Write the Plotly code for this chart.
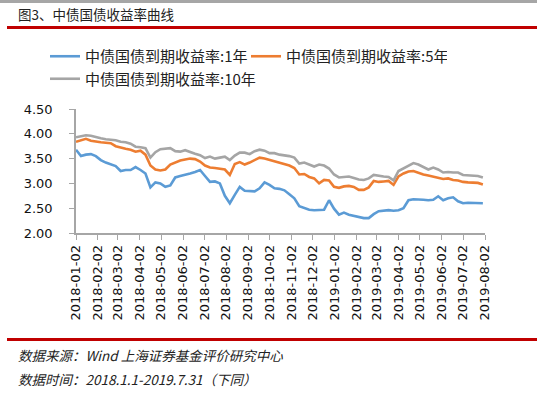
import pandas as pd
import plotly.graph_objects as go

# ---- data (weekly readings from the chart) ----
dates = pd.date_range("2018-01-02", periods=83, freq="7D").strftime("%Y-%m-%d").tolist()

y1 = [3.68, 3.55, 3.58, 3.59, 3.55, 3.47, 3.42, 3.39, 3.35, 3.25,
      3.27, 3.27, 3.33, 3.27, 3.20, 2.92, 3.02, 3.00, 2.93, 2.96,
      3.12, 3.15, 3.17, 3.20, 3.23, 3.27, 3.15, 3.03, 3.04, 3.00,
      2.75, 2.60, 2.77, 2.93, 2.85, 2.84, 2.84, 2.90, 3.02, 2.97,
      2.90, 2.89, 2.86, 2.78, 2.70, 2.54, 2.50, 2.47, 2.46, 2.46,
      2.47, 2.66, 2.49, 2.37, 2.41, 2.37, 2.35, 2.33, 2.30, 2.30,
      2.38, 2.44, 2.45, 2.46, 2.45, 2.46, 2.50, 2.66, 2.68, 2.68,
      2.67, 2.66, 2.67, 2.74, 2.66, 2.70, 2.72, 2.64, 2.60, 2.61,
      2.61, 2.61, 2.60]

y5 = [3.84, 3.87, 3.90, 3.86, 3.84, 3.83, 3.82, 3.81, 3.75, 3.72,
      3.70, 3.68, 3.64, 3.66, 3.58, 3.36, 3.28, 3.26, 3.28, 3.38,
      3.42, 3.46, 3.48, 3.50, 3.49, 3.44, 3.36, 3.32, 3.31, 3.29,
      3.28, 3.17, 3.39, 3.43, 3.38, 3.42, 3.47, 3.52, 3.50, 3.47,
      3.45, 3.42, 3.39, 3.36, 3.31, 3.18, 3.19, 3.13, 3.10, 3.00,
      3.07, 3.06, 2.93, 2.91, 2.94, 2.95, 2.93, 2.87, 2.87, 2.92,
      3.05, 3.03, 3.04, 3.05, 2.97, 3.14, 3.20, 3.24, 3.25, 3.21,
      3.18, 3.16, 3.14, 3.11, 3.09, 3.10, 3.07, 3.06, 3.03, 3.02,
      3.02, 3.01, 2.98]

y10 = [3.93, 3.95, 3.97, 3.96, 3.93, 3.91, 3.89, 3.88, 3.87, 3.84,
       3.83, 3.80, 3.74, 3.73, 3.71, 3.52, 3.63, 3.69, 3.70, 3.71,
       3.65, 3.64, 3.67, 3.63, 3.60, 3.57, 3.51, 3.54, 3.50, 3.52,
       3.54, 3.47, 3.56, 3.62, 3.62, 3.59, 3.65, 3.68, 3.66, 3.61,
       3.61, 3.58, 3.57, 3.55, 3.52, 3.40, 3.42, 3.38, 3.34, 3.38,
       3.36, 3.30, 3.18, 3.12, 3.13, 3.14, 3.11, 3.08, 3.07, 3.10,
       3.17, 3.15, 3.14, 3.13, 3.06, 3.25, 3.30, 3.36, 3.41, 3.38,
       3.33, 3.28, 3.32, 3.28, 3.22, 3.23, 3.22, 3.22, 3.17, 3.16,
       3.16, 3.15, 3.12]

series_names = ["中债国债到期收益率:1年", "中债国债到期收益率:5年", "中债国债到期收益率:10年"]
series_colors = ["#5B9BD5", "#ED7D31", "#A5A5A5"]

tick_labels = ["2018-01-02", "2018-02-02", "2018-03-02", "2018-04-02", "2018-05-02",
               "2018-06-02", "2018-07-02", "2018-08-02", "2018-09-02", "2018-10-02",
               "2018-11-02", "2018-12-02", "2019-01-02", "2019-02-02", "2019-03-02",
               "2019-04-02", "2019-05-02", "2019-06-02", "2019-07-02", "2019-08-02"]

title_text = "图3、中债国债收益率曲线"
note1 = "数据来源：Wind 上海证券基金评价研究中心"
note2 = "数据时间：2018.1.1-2019.7.31（下同）"

# ---- layout geometry ----
W, H = 545, 394
L, R, T, B = 76, 60, 109, 161
PW, PH = W - L - R, H - T - B


def px(x):
    return (x - L) / PW


def py(y):
    return (H - B - y) / PH


CJK = "Noto Sans CJK SC"

fig = go.Figure()
for vals, name, col in zip([y1, y5, y10], series_names, series_colors):
    fig.add_trace(go.Scatter(x=dates, y=vals, mode="lines", name=name,
                             line=dict(color=col, width=2.6)))

axis_gray = "#A6A6A6"
fig.update_layout(
    width=W, height=H,
    margin=dict(l=L, r=R, t=T, b=B, autoexpand=False),
    paper_bgcolor="white", plot_bgcolor="white",
    showlegend=True,
    legend=dict(orientation="h", xref="paper", yref="paper",
                x=px(45), y=py(40), xanchor="left", yanchor="top",
                font=dict(family=CJK, size=15, color="#222"),
                entrywidth=156, entrywidthmode="pixels",
                bgcolor="rgba(0,0,0,0)", borderwidth=0),
    xaxis=dict(type="date", range=["2018-01-02", "2019-08-02"],
               tickmode="array", tickvals=tick_labels, ticktext=tick_labels,
               tickangle=-90, ticks="outside", ticklen=5, tickcolor=axis_gray,
               showline=True, linecolor=axis_gray, linewidth=1.5,
               showgrid=False, zeroline=False,
               tickfont=dict(family="DejaVu Sans", size=13, color="#111")),
    yaxis=dict(range=[2, 4.5], dtick=0.5, tick0=2, tickformat=".2f",
               ticks="outside", ticklen=5, tickcolor=axis_gray,
               ticklabelstandoff=14,
               showline=True, linecolor=axis_gray, linewidth=1.5,
               showgrid=False, zeroline=False,
               tickfont=dict(family="DejaVu Sans", size=13, color="#111")),
)

shapes = [
    dict(type="rect", xref="paper", yref="paper", x0=px(0), x1=px(537), y0=py(3), y1=py(0),
         fillcolor="#A6A6A6", line=dict(width=0)),
    dict(type="line", xref="paper", yref="paper", x0=px(7), x1=px(537), y0=py(27.5), y1=py(27.5),
         line=dict(color="#C00000", width=3)),
    dict(type="line", xref="paper", yref="paper", x0=px(7), x1=px(537), y0=py(339.5), y1=py(339.5),
         line=dict(color="#C00000", width=3)),
]
fig.update_layout(shapes=shapes)

fig.add_annotation(text=title_text, xref="paper", yref="paper", x=px(16), y=py(14),
                   xanchor="left", yanchor="middle", showarrow=False,
                   font=dict(family=CJK, size=13.5, color="#222"))
fig.add_annotation(text="<i>" + note1 + "</i>", xref="paper", yref="paper", x=px(16), y=py(355),
                   xanchor="left", yanchor="middle", showarrow=False,
                   font=dict(family=CJK, size=13.5, color="#222"))
fig.add_annotation(text="<i>" + note2 + "</i>", xref="paper", yref="paper", x=px(16), y=py(379),
                   xanchor="left", yanchor="middle", showarrow=False,
                   font=dict(family=CJK, size=13.5, color="#222"))

fig.write_html("out.html", config={"displayModeBar": False},
               post_script="document.body.style.margin='0';document.body.style.overflow='hidden';")
